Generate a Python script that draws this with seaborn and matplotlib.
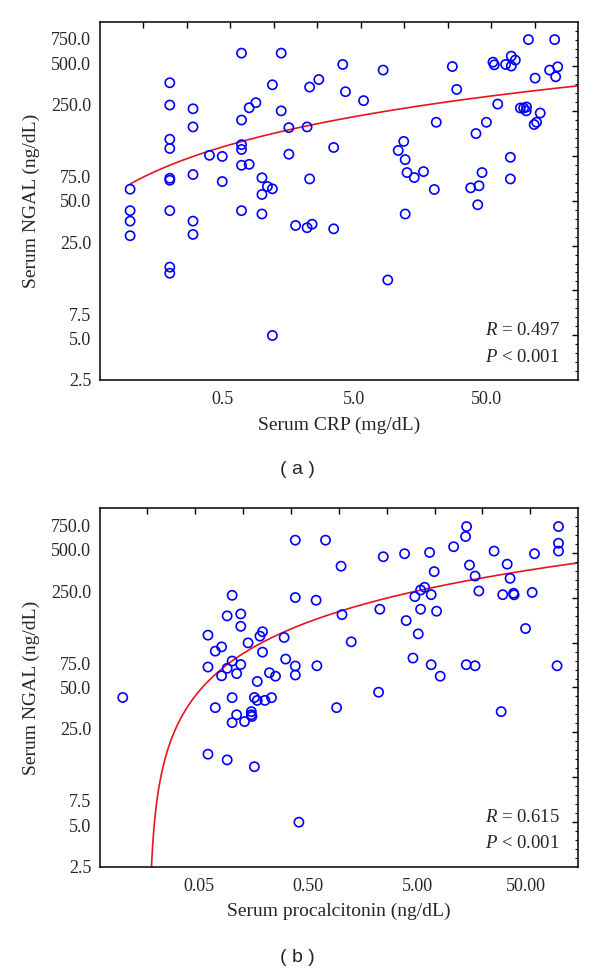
import numpy as np
import matplotlib
matplotlib.use('Agg')
import matplotlib.pyplot as plt
from matplotlib.ticker import NullLocator
import seaborn as sns

# panel (a): serum CRP vs serum NGAL
crp = [0.7, 1.4, 0.2, 1.2, 2.7, 2.3, 4.1, 0.2, 0.3, 0.8,
       0.9, 1.4, 0.7, 0.3, 1.6, 2.2, 0.2, 0.2, 0.7, 0.7,
       0.4, 0.5, 1.6, 3.5, 0.7, 0.8, 0.2, 0.2, 0.3, 0.5,
       1.0, 1.1, 1.2, 1.0, 2.3, 0.1, 0.1, 0.1, 0.1, 0.2,
       0.3, 0.3, 0.7, 1.0, 0.2, 0.2, 1.8, 2.2, 2.4, 3.5,
       1.2, 8.3, 4.3, 5.9, 27.8, 30.0, 105, 166, 56.5, 57.9,
       70.5, 77.8, 83.5, 77.8, 152, 175, 118, 169, 61.4, 91.2,
       96.6, 101.6, 101, 129, 116, 121, 50.4, 42, 21, 11.9,
       10.8, 12.2, 12.6, 14.3, 16.8, 20.3, 76.6, 46.7, 44.3, 38.3,
       76.6, 43.3, 12.2, 9.0]
ngal_a = [591, 591, 360, 348, 380, 335, 489, 248, 233, 237,
          258, 225, 193, 172, 170, 172, 140, 120, 128, 118,
          107, 105, 109, 122, 90.6, 92, 72.9, 70.5, 77.6, 69,
          73.5, 63.5, 61.1, 55.6, 72.1, 60.7, 42.4, 35.6, 27.9, 42.4,
          35.6, 28.5, 42.4, 40.1, 16.5, 14.9, 33.1, 31.9, 33.8, 31.3,
          5.26, 445, 310, 267, 472, 322, 741, 741, 508, 486,
          489, 562, 526, 476, 445, 470, 389, 398, 252, 236,
          236, 240, 225, 217, 179, 186, 186, 154, 186, 135,
          116, 99.6, 80.2, 73.8, 81.5, 60.4, 103.5, 80.2, 64.3, 62.1,
          72.1, 46.8, 40.1, 13.3]

# panel (b): serum procalcitonin vs serum NGAL
pct = [0.0099, 0.38, 0.72, 1.0, 0.1, 0.38, 0.59, 1.02, 0.09, 0.12,
       0.12, 0.06, 0.19, 0.18, 0.3, 0.14, 0.08, 0.07, 0.19, 0.1,
       0.31, 0.06, 0.09, 0.12, 0.38, 0.6, 0.08, 0.11, 0.22, 0.25,
       0.38, 0.17, 0.1, 0.16, 0.17, 0.2, 0.23, 0.07, 0.11, 0.15,
       0.15, 0.152, 0.1, 0.13, 0.06, 0.09, 0.16, 0.41, 0.91, 14.2,
       13.9, 99.1, 99.1, 99.1, 10.8, 25.4, 59.7, 3.83, 6.5, 2.44,
       15.1, 33.5, 7.16, 17.0, 35.6, 5.85, 5.37, 4.76, 6.72, 18.4,
       30.5, 38.3, 38.8, 56.8, 2.27, 5.37, 7.53, 3.96, 5.11, 49.4,
       1.24, 4.57, 6.72, 8.13, 14.1, 17.0, 96.2, 2.21, 29.5]
ngal_b = [42.3, 587, 587, 380, 233.5, 225, 215, 169, 165.5, 171,
          139, 120, 127, 118, 115.4, 105.4, 98.6, 91.8, 90.3, 77.8,
          80.4, 70.4, 68.9, 73.4, 71.6, 71.9, 60.8, 63.1, 64.0, 60.4,
          61.6, 55.3, 42.2, 42.3, 40.3, 40.3, 42.2, 35.7, 31.7, 33.4,
          31.7, 30.8, 27.8, 28.3, 16.4, 14.9, 13.3, 5.26, 35.7, 737,
          624, 737, 558, 489, 526, 489, 468, 468, 478, 445,
          387, 393, 347, 322, 310, 267, 255, 228.5, 236, 251,
          236, 241.5, 235.5, 245, 185, 185, 179, 153, 122.5, 134,
          107.3, 81.8, 73.2, 60.4, 73.2, 71.9, 71.9, 46.2, 33.4]

# fitted curves  y = a + b*log10(x)
fit_a = [147.4, 81.2]
fit_b = [180.0, 102.0]

stats_a = ['$R$ = 0.497', '$P$ < 0.001']
stats_b = ['$R$ = 0.615', '$P$ < 0.001']

yticks = [2.5, 5.0, 7.5, 25.0, 50.0, 75.0, 250.0, 500.0, 750.0]
yticklabels = ['2.5', '5.0', '7.5', '25.0', '50.0', '75.0', '250.0', '500.0', '750.0']
xticks_a = [0.5, 5.0, 50.0]
xticklabels_a = ['0.5', '5.0', '50.0']
xticks_b = [0.05, 0.5, 5.0, 50.0]
xticklabels_b = ['0.05', '0.50', '5.00', '50.00']

sns.set_style('white')
plt.rcParams['font.family'] = ['Liberation Serif', 'DejaVu Serif']
plt.rcParams['mathtext.fontset'] = 'custom'
plt.rcParams['mathtext.rm'] = 'Liberation Serif'
plt.rcParams['mathtext.it'] = 'Liberation Serif:italic'

fig = plt.figure(figsize=(6, 9.76), dpi=100)
ax1 = fig.add_axes([0.166, 0.6107, 0.7975, 0.3671])
ax2 = fig.add_axes([0.166, 0.112, 0.7975, 0.3672])

blue = '#0000ff'
red = '#e8141c'


def draw_panel(ax, x, y, fit, x_from, xlim, xticks, xticklabels, xlabel, stats, n_top):
    ax.set_xscale('log')
    ax.set_yscale('log')
    sns.scatterplot(x=x, y=y, ax=ax, marker='o', s=44, facecolor='none',
                    edgecolor=blue, linewidth=1.2, zorder=3)
    xf = np.geomspace(x_from, xlim[1], 600)
    yf = fit[0] + fit[1] * np.log10(xf)
    yf = np.where(yf > 0, yf, np.nan)
    ax.plot(xf, yf, color=red, lw=1.2, zorder=2)
    ax.set_xlim(*xlim)
    ax.set_ylim(2.5, 1000)
    ax.set_xticks(xticks)
    ax.set_xticklabels(xticklabels)
    ax.set_yticks(yticks)
    ax.set_yticklabels(yticklabels)
    ax.xaxis.set_minor_locator(NullLocator())
    ax.yaxis.set_minor_locator(NullLocator())
    ax.tick_params(direction='in', length=4, width=1, labelsize=13, color='black')
    ax.tick_params(axis='x', pad=8)
    ax.tick_params(axis='y', pad=6)
    for s in ax.spines.values():
        s.set_color('black')
        s.set_linewidth(1.1)
    ax.set_xlabel(xlabel, fontsize=14, labelpad=6)
    ax.set_ylabel('Serum NGAL (ng/dL)', fontsize=14, labelpad=8)
    ax.text(0.962, 0.138, stats[0], transform=ax.transAxes, ha='right', va='center', fontsize=13.5)
    ax.text(0.962, 0.064, stats[1], transform=ax.transAxes, ha='right', va='center', fontsize=13.5)

    # evenly spaced ticks on the top and right frame
    ov = fig.add_axes(ax.get_position(), frameon=False)
    ov.set_xlim(0, 1)
    ov.set_ylim(0, 1)
    ov.set_xticks(np.arange(1, n_top) / n_top)
    ov.set_yticks(np.arange(1, 8) / 8)
    ov.set_yticks(np.arange(1, 40) / 40, minor=True)
    ov.tick_params(which='both', direction='in', bottom=False, left=False, top=True, right=True,
                   labelbottom=False, labelleft=False, length=4, width=1, color='black')
    ov.tick_params(which='minor', length=2, width=0.8)
    ov.xaxis.set_minor_locator(NullLocator())
    ov.patch.set_visible(False)


draw_panel(ax1, crp, ngal_a, fit_a, 0.1, (0.0587, 250), xticks_a, xticklabels_a,
           'Serum CRP (mg/dL)', stats_a, 11)
draw_panel(ax2, pct, ngal_b, fit_b, 0.015, (0.00607, 150), xticks_b, xticklabels_b,
           'Serum procalcitonin (ng/dL)', stats_b, 10)

fig.text(0.495, 1 - 470 / 976, '( a )', ha='center', va='center', fontsize=14, family='Liberation Sans')
fig.text(0.495, 1 - 957 / 976, '( b )', ha='center', va='center', fontsize=14, family='Liberation Sans')

fig.savefig('out.png', dpi=100)
plt.close(fig)
